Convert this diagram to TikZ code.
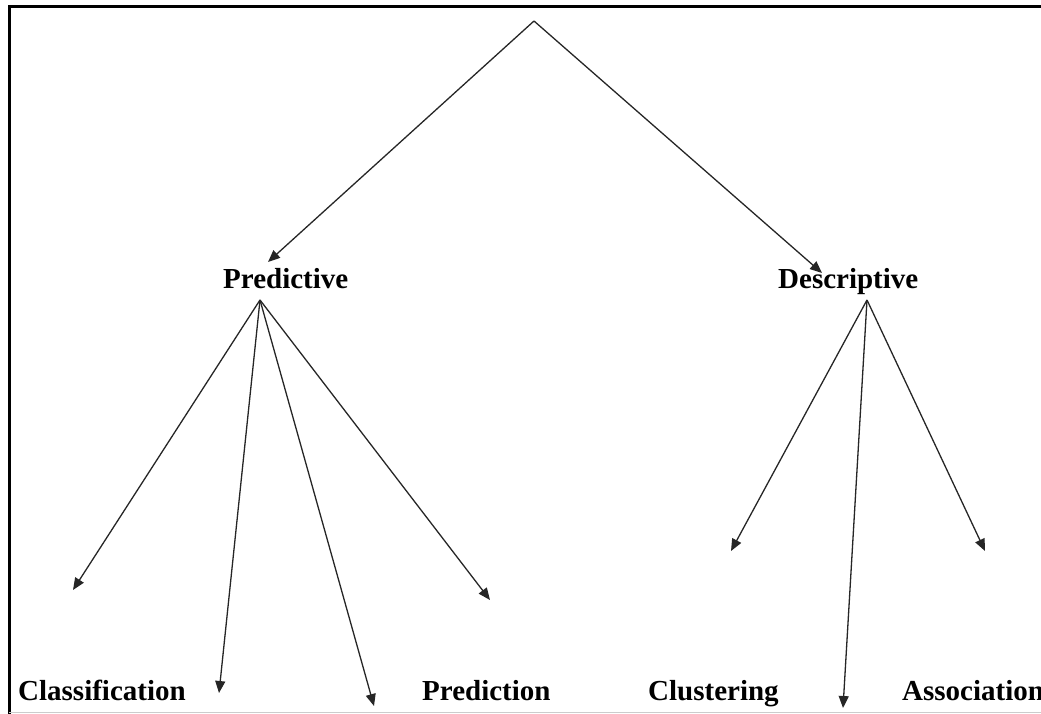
\documentclass[tikz,border=0pt]{standalone}
\usepackage{fontspec}
\setmainfont{Liberation Serif}
\usetikzlibrary{arrows.meta}
\begin{document}
\begin{tikzpicture}[x=1pt,y=-1pt,
  conn/.style={draw=black!85, line width=1.3pt, -{Triangle[length=12pt,width=10pt]}},
  lab/.style={font=\fontsize{29}{29}\selectfont\bfseries, inner sep=0pt, anchor=base west}]
\useasboundingbox (0,0) rectangle (1041,714);
\clip (0,0) rectangle (1041,714);
% frame
\draw[line width=3pt] (9,714) -- (9,6.5) -- (1041,6.5);
\draw[black!20, line width=1pt] (9,712.5) -- (1041,712.5);
% nodes
\coordinate (root) at (534,21);
\node[lab] (pred) at (223,288) {Predictive};
\node[lab] (desc) at (778,288) {Descriptive};
\coordinate (predtip) at (268,262);
\coordinate (desctip) at (822,273);
\coordinate (psrc) at (260,300);
\coordinate (dsrc) at (867,300);
\node[lab] (cls) at (18,700) {Classification};
\node[lab] (prd) at (422,700) {Prediction};
\node[lab] (clu) at (648,700) {Clustering};
\node[lab] (ass) at (902,700) {Association};
\coordinate (p1) at (73,590);
\coordinate (p2) at (219,693);
\coordinate (p3) at (374,706);
\coordinate (p4) at (490,600);
\coordinate (d1) at (731,551);
\coordinate (d2) at (843,708);
\coordinate (d3) at (985,551);
% connectors
\draw[conn] (root) -- (predtip);
\draw[conn] (root) -- (desctip);
\foreach \t in {p1,p2,p3,p4} \draw[conn] (psrc) -- (\t);
\foreach \t in {d1,d2,d3} \draw[conn] (dsrc) -- (\t);
\end{tikzpicture}
\end{document}
